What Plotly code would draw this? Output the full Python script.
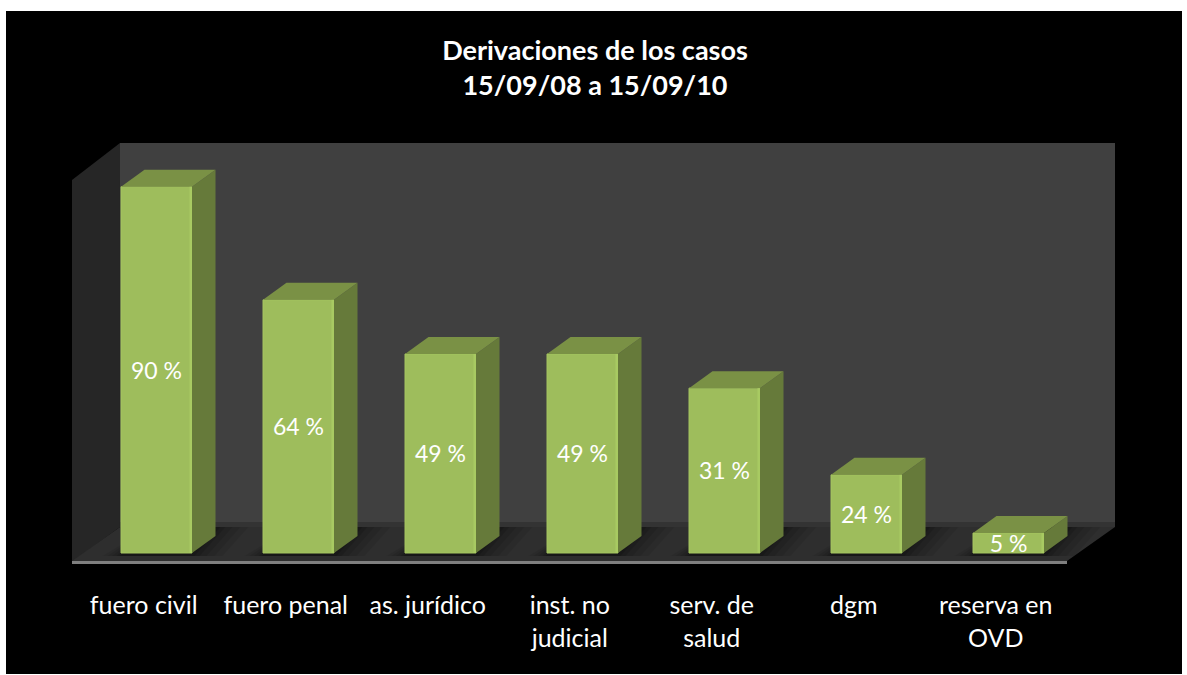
import plotly.graph_objects as go

# Data
categories = ["fuero civil", "fuero penal", "as. jurídico", "inst. no<br>judicial",
              "serv. de<br>salud", "dgm", "reserva en<br>OVD"]
bar_heights = [90, 62.2, 48.9, 48.9, 40.5, 19.2, 4.9]
label_texts = ["90 %", "64 %", "49 %", "49 %", "31 %", "24 %", "5 %"]
title_text = "<b>Derivaciones de los casos<br>15/09/08 a 15/09/10</b>"

FONT = "Lato, Carlito, 'Open Sans', sans-serif"
W, H = 1187, 675
PL, PR, PT, PB = 72, 1115, 143, 565     # plot area in page pixels
x_unit, y_unit = 142.0, 4.07
x0_px, y0_px = 156.5, 553.0
x_rng = [(PL - x0_px) / x_unit, (PR - x0_px) / x_unit]
y_rng = [(y0_px - PB) / y_unit, (y0_px - PT) / y_unit]
half = 0.25
dx, dy = 23.5 / x_unit, 17 / y_unit
label_shift = 3 / y_unit
edge = 2.5 / x_unit
xs = list(range(len(categories)))


def px_x(p):
    return (p - PL) / (PR - PL)


def px_y(p):
    return (PB - p) / (PB - PT)


def poly(points, color, layer="below", opacity=1):
    path = "M " + " L ".join(f"{px_x(a):.5f} {px_y(b):.5f}" for a, b in points) + " Z"
    return dict(type="path", xref="paper", yref="paper", path=path, fillcolor=color,
                line=dict(width=0), layer=layer, opacity=opacity)


shapes = [
    poly([(6, 11), (1182, 11), (1182, 674), (6, 674)], "#000000"),
    poly([(120, 143), (1115, 143), (1115, 527), (120, 527)], "#404040"),
    poly([(72, 180), (120, 143), (120, 527), (72, 562)], "#262626"),
    poly([(72, 561), (1067, 561), (1115, 527), (120, 527)], "#2E2E2E"),
    poly([(120, 522), (1115, 522), (1115, 527), (120, 527)], "#333333"),
    poly([(72, 561), (1067, 561), (1067, 564), (72, 564)], "#7F7F7F"),
]

fig = go.Figure()

# Soft floor shadows around the bars
for x in xs:
    c = x0_px + x * x_unit
    for grow, op in ((30, 0.07), (22, 0.08), (14, 0.10), (7, 0.12), (2, 0.14)):
        shapes.append(poly([(c - 36 - grow * 0.6, 556), (c + 36 + grow, 556),
                            (c + 62 + grow, 527), (c - 6, 527)], "#000000", opacity=op))

fig.add_trace(go.Bar(x=xs, y=bar_heights, width=half * 2,
                     marker=dict(color="#9EBD5C", line=dict(color="#A5C560", width=1)),
                     hoverinfo="skip", showlegend=False))

for x, h in zip(xs, bar_heights):
    l, r = x - half, x + half
    # right side face
    fig.add_trace(go.Scatter(x=[r, r + dx, r + dx, r, r], y=[0, dy, h + dy, h, 0],
                             mode="lines", fill="toself", fillcolor="#667A3A",
                             line=dict(width=0, color="#667A3A"),
                             hoverinfo="skip", showlegend=False))
    # top face
    fig.add_trace(go.Scatter(x=[l, l + dx, r + dx, r, l], y=[h, h + dy, h + dy, h, h],
                             mode="lines", fill="toself", fillcolor="#7A9145",
                             line=dict(width=0, color="#7A9145"),
                             hoverinfo="skip", showlegend=False))
    # lighter bevel along the right edge of the front face
    fig.add_trace(go.Scatter(x=[r - edge, r, r, r - edge, r - edge], y=[0, 0, h, h, 0],
                             mode="lines", fill="toself", fillcolor="#A8CA62",
                             line=dict(width=0, color="#A8CA62"),
                             hoverinfo="skip", showlegend=False))

fig.add_trace(go.Scatter(x=xs, y=[h / 2 - label_shift for h in bar_heights], mode="text",
                         text=label_texts, textposition="middle center",
                         textfont=dict(family=FONT, size=23, color="#FFFFFF"),
                         hoverinfo="skip", showlegend=False, cliponaxis=False))

fig.update_layout(
    width=W, height=H,
    margin=dict(l=PL, r=W - PR, t=PT, b=H - PB, pad=0),
    paper_bgcolor="#FFFFFF", plot_bgcolor="rgba(0,0,0,0)",
    shapes=shapes, showlegend=False,
    title=dict(text=title_text, x=595 / W, xanchor="center", y=1 - 60 / H, yanchor="middle",
               font=dict(family=FONT, size=27, color="#FFFFFF")),
    xaxis=dict(range=x_rng, tickmode="array", tickvals=[x - 0.09 for x in xs], ticktext=categories,
               showgrid=False, zeroline=False, showline=False, ticks="outside", ticklen=18,
               tickcolor="rgba(0,0,0,0)", tickfont=dict(family=FONT, size=25, color="#FFFFFF")),
    yaxis=dict(range=y_rng, showgrid=False, zeroline=False, showline=False, showticklabels=False),
)

fig.write_html("out.html", config={"displayModeBar": False},
               post_script="document.body.style.margin='0';")
